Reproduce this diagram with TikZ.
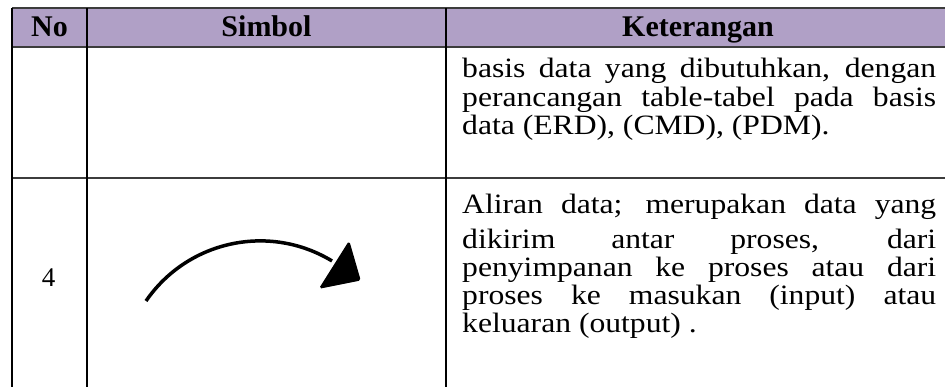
\documentclass[tikz,border=0pt]{standalone}
\usepackage{fontspec}
\setmainfont{Liberation Serif}
\newfontfamily\bodyfont[FakeStretch=1.13]{Liberation Serif}
\newfontfamily\headfont{Liberation Serif}
\definecolor{headpurple}{RGB}{176,160,198}
\definecolor{ruledark}{RGB}{60,60,60}
\newcommand{\jline}[1]{\makebox[474pt][s]{#1}}
\tikzset{
  vrule/.style={draw=black, line width=1.4pt},
  hrule/.style={draw=ruledark, line width=2.2pt},
  rowrule/.style={draw=ruledark, line width=1.6pt},
  headtext/.style={inner sep=0pt, anchor=base, font=\headfont\bfseries\fontsize{30}{30}\selectfont},
  bodytext/.style={inner sep=0pt, anchor=base west, font=\bodyfont\fontsize{28}{28}\selectfont},
  numtext/.style={inner sep=0pt, anchor=center, font=\headfont\fontsize{27}{27}\selectfont},
  flowline/.style={draw=black, line width=3.5pt},
  flowhead/.style={fill=black, draw=black, line width=1.2pt, rounded corners=1.5pt}
}
\begin{document}
\begin{tikzpicture}[x=1pt,y=-1pt]
\useasboundingbox (0,0) rectangle (945,387);
% header band
\fill[headpurple] (12,8) rectangle (945,47);
% rules
\draw[hrule] (12,8) -- (945,8);
\draw[hrule] (12,47) -- (945,47);
\draw[rowrule] (12,178) -- (945,178);
\draw[vrule] (12,8) -- (12,387);
\draw[vrule] (87,8) -- (87,387);
\draw[vrule] (446,8) -- (446,387);
% header texts
\node[headtext] (hno) at (49.5,37) {No};
\node[headtext] (hsim) at (266.5,37) {Simbol};
\node[headtext] (hket) at (698,37) {Keterangan};
% row 1 text
\node[bodytext] (r1a) at (462,78) {\jline{basis data yang dibutuhkan, dengan}};
\node[bodytext] (r1b) at (462,107) {\jline{perancangan table-tabel pada basis}};
\node[bodytext] (r1c) at (462,135) {data (ERD), (CMD), (PDM).};
% row 2
\node[numtext] (n4) at (48.5,277.5) {4};
\node[bodytext] (r2a) at (462,214) {\jline{Aliran data; merupakan data yang}};
\node[bodytext] (r2b) at (462,249) {\jline{dikirim antar proses, dari}};
\node[bodytext] (r2c) at (462,277) {\jline{penyimpanan ke proses atau dari}};
\node[bodytext] (r2d) at (462,305) {\jline{proses ke masukan (input) atau}};
\node[bodytext] (r2e) at (462,333) {keluaran (output) .};
% flow symbol
\draw[flowline] (146,301) arc[start angle=-145.5, end angle=-58.8, radius=138.6];
\filldraw[flowhead] (349,242) -- (360,280) -- (320,288) -- cycle;
\end{tikzpicture}
\end{document}
